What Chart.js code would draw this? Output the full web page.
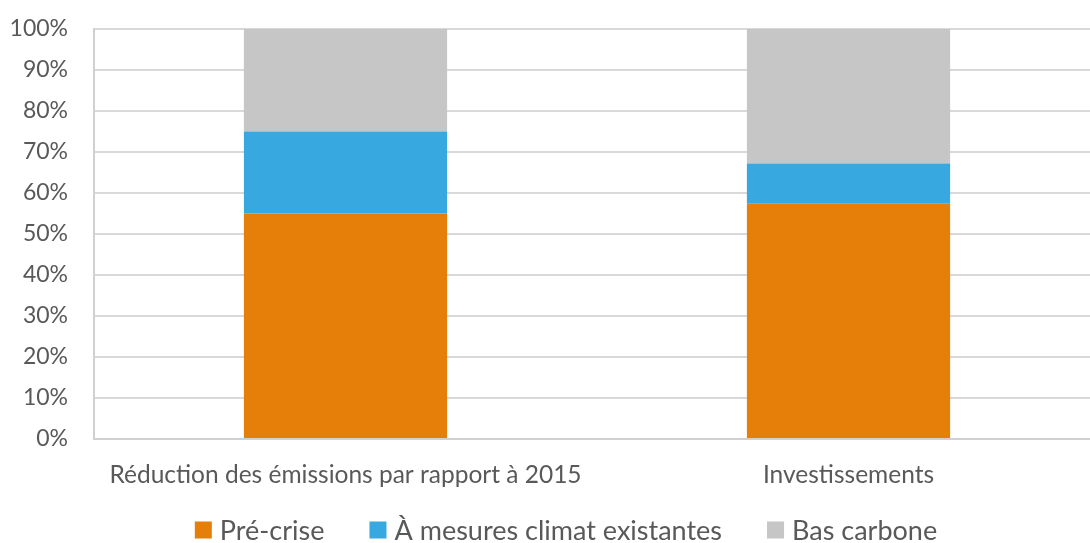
<!DOCTYPE html>
<html>
<head>
<meta charset="utf-8">
<script src="https://cdn.jsdelivr.net/npm/chart.js@4"></script>
<style>
  html, body { margin: 0; padding: 0; background: #fff; overflow: hidden; }
  #wrap { width: 1100px; height: 543px; }
</style>
</head>
<body>
<div id="wrap"><canvas id="chart"></canvas></div>
<script>
// ── data ──
const categories   = ['Réduction des émissions par rapport à 2015', 'Investissements'];
const preCrise     = [55, 57.4];
const mesures      = [20, 9.8];
const basCarbone   = [25, 32.8];
const seriesNames  = ['Pré-crise', 'À mesures climat existantes', 'Bas carbone'];
const seriesColors = ['#e67e0a', '#37a8e0', '#c6c6c6'];

const FONT = 'Lato, "Open Sans", sans-serif';
const GREY = '#595959';

// legend drawn by hand so the spacing can follow the original
const bottomLegend = {
  id: 'bottomLegend',
  afterDraw(chart) {
    const c = chart.ctx;
    const box = 17, gapText = 8, gapItem = 45, y = 530;
    c.save();
    c.font = '27px ' + FONT;
    c.textBaseline = 'middle';
    const widths = seriesNames.map(n => c.measureText(n).width);
    const total = widths.reduce((a, w) => a + box + gapText + w, 0) + gapItem * (seriesNames.length - 1);
    let x = 566 - total / 2;
    seriesNames.forEach((n, i) => {
      c.fillStyle = seriesColors[i];
      c.fillRect(x, y - box / 2, box, box);
      x += box + gapText;
      c.fillStyle = GREY;
      c.fillText(n, x, y + 1);
      x += widths[i] + gapItem;
    });
    c.restore();
  }
};

const ctx = document.getElementById('chart').getContext('2d');
new Chart(ctx, {
  type: 'bar',
  data: {
    labels: categories,
    datasets: [preCrise, mesures, basCarbone].map((d, i) => ({
      label: seriesNames[i],
      data: d,
      backgroundColor: seriesColors[i],
      borderWidth: 0,
      barPercentage: 0.404,
      categoryPercentage: 1
    }))
  },
  options: {
    responsive: true,
    maintainAspectRatio: false,
    animation: false,
    layout: { padding: { top: 29, right: 0, left: 0, bottom: 44 } },
    plugins: {
      legend: { display: false },
      tooltip: { enabled: false }
    },
    scales: {
      x: {
        stacked: true,
        grid: { display: false, drawTicks: false },
        border: { color: '#d0d0d0', width: 2 },
        ticks: { font: { family: FONT, size: 24.5 }, color: GREY, padding: 21 },
        afterFit: s => { s.height = 60; }
      },
      y: {
        stacked: true,
        min: 0,
        max: 100,
        ticks: {
          stepSize: 10,
          callback: v => v + '%',
          font: { family: FONT, size: 23 },
          color: GREY,
          padding: 2
        },
        grid: { color: '#d9d9d9', lineWidth: 2, drawTicks: true, tickLength: 24, tickColor: 'rgba(0,0,0,0)' },
        border: { color: '#d0d0d0', width: 2 },
        afterFit: s => { s.width = 94; }
      }
    }
  },
  plugins: [bottomLegend]
});
</script>
</body>
</html>
